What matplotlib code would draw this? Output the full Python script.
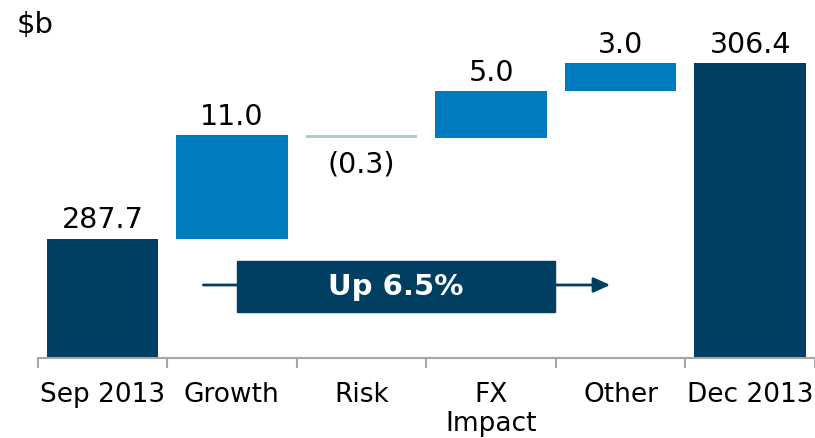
import numpy as np
import matplotlib.pyplot as plt

# data ($b)
categories = ["Sep 2013", "Growth", "Risk", "FX\nImpact", "Other", "Dec 2013"]
start_value = 287.7
changes = [11.0, -0.3, 5.0, 3.0]
end_value = 306.4

navy = "#003f62"
blue = "#007bc0"
light = "#b3c7cf"

# waterfall bottoms / heights
steps = np.concatenate([[start_value], start_value + np.cumsum(changes)])
bottoms = [0] + list(steps[:-1]) + [0]
heights = [start_value] + changes + [end_value]
colors = [navy] + [blue if c >= 0 else light for c in changes] + [navy]

fig = plt.figure(figsize=(8.15, 4.38), dpi=100)
ax = fig.add_axes([37.5 / 815, 80 / 438, 777.5 / 815, 358 / 438])

x = np.arange(len(categories))
ax.bar(x, heights, bottom=bottoms, width=0.86, color=colors)

# value labels
for i, (b, h) in enumerate(zip(bottoms, heights)):
    top = b + h
    if h >= 0:
        ax.text(i, top + 0.45, f"{h:.1f}", ha="center", va="bottom", fontsize=20.5)
    else:
        ax.text(i, top - 1.3, f"({abs(h):.1f})", ha="center", va="top", fontsize=20.5)

ax.set_xlim(-0.5, len(categories) - 0.5)
ax.set_ylim(275, 275 + 358 / 9.396)

# axis styling
for s in ["top", "right", "left"]:
    ax.spines[s].set_visible(False)
ax.spines["bottom"].set_color("#a6a6a6")
ax.spines["bottom"].set_linewidth(1.5)
ax.set_yticks([])
ax.set_xticks(x)
ax.set_xticklabels(categories, fontsize=19, linespacing=1.15)
ax.tick_params(axis="x", which="major", length=0, pad=17)
ax.set_xticks(np.arange(-0.5, len(categories), 1.0), minor=True)
ax.tick_params(axis="x", which="minor", length=7, width=1.5, color="#a6a6a6")

# growth arrow with box
ax.annotate("", xy=(3.92, 282.77), xytext=(0.78, 282.77),
            arrowprops=dict(arrowstyle="-|>,head_length=1.0,head_width=0.45",
                            color=navy, lw=2, shrinkA=0, shrinkB=0))
ax.add_patch(plt.Rectangle((1.04, 279.9), 2.45, 5.42, color=navy, zorder=3))
ax.text(2.265, 282.6, "Up 6.5%", ha="center", va="center", color="white",
        fontsize=21, fontweight="bold", zorder=4)

fig.text(17 / 815, 1 - 11 / 438, "$b", ha="left", va="top", fontsize=21)

fig.savefig("out.png", dpi=100)
